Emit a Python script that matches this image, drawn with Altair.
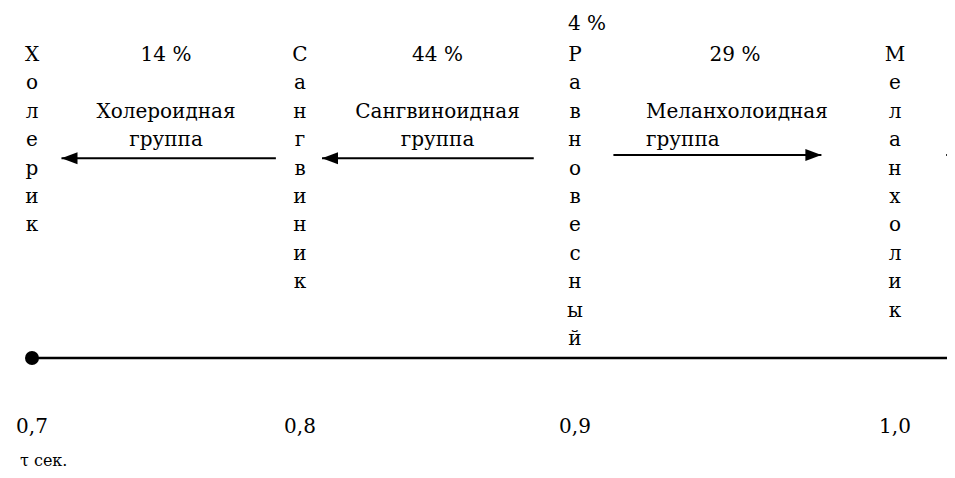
import altair as alt
import pandas as pd

# ---------------- data ----------------
types = ["Холерик", "Сангвиник", "Равновесный", "Меланхолик"]
tau = [0.7, 0.8, 0.9, 1.0]
tau_labels = ["0,7", "0,8", "0,9", "1,0"]
group_pct = ["14 %", "44 %", "29 %"]
center_pct = "4 %"
group_names = ["Холероидная", "Сангвиноидная", "Меланхолоидная"]
group_word = "группа"
arrow_from = [0.791, 0.885, 0.912, 1.016]
arrow_to = [0.711, 0.808, 0.977, 1.100]
axis_unit = "τ сек."

# ---------------- layout ----------------
X_RANGE = [24, 292, 567, 887]          # pixel position of each tau value
Y_DOMAIN = [0, 14]                     # text rows
Y_RANGE = [53, 53 + 14 * 28.4]
ROW_PCT_CENTER = -1.09
ROW_AXIS = 10.46
ROW_TICKS = 13.1
ROW_UNIT = 14.26
ARROW_ROWS = [3.42, 3.42, 3.31, 3.31]
SERIF = "DejaVu Serif"

xs = alt.Scale(domain=tau, range=X_RANGE, nice=False, zero=False)
ys = alt.Scale(domain=Y_DOMAIN, range=Y_RANGE, nice=False, zero=False)


def X(f):
    return alt.X(f"{f}:Q", scale=xs, axis=None)


def Y(f):
    return alt.Y(f"{f}:Q", scale=ys, axis=None)


# vertical words, one letter per row
letters = pd.DataFrame(
    [{"tau": t, "row": i, "ch": ch} for w, t in zip(types, tau) for i, ch in enumerate(w)]
)
mids = [(tau[k] + tau[k + 1]) / 2 for k in range(len(tau) - 1)]
pct = pd.DataFrame({"tau": mids, "row": 0, "txt": group_pct})
pct_c = pd.DataFrame({"tau": [tau[2]], "row": [ROW_PCT_CENTER], "txt": [center_pct]})
groups = pd.DataFrame(
    [{"tau": m, "row": 2, "txt": n, "g": k} for k, (m, n) in enumerate(zip(mids, group_names))]
    + [{"tau": m, "row": 3, "txt": group_word, "g": k} for k, m in enumerate(mids)]
)
arrows = pd.DataFrame({"a": arrow_from, "b": arrow_to, "row": ARROW_ROWS})
arrows["shape"] = [
    "M0,0L2,-0.75L2,0.75Z" if b < a else "M0,0L-2,-0.75L-2,0.75Z"
    for a, b in zip(arrow_from, arrow_to)
]
axis_df = pd.DataFrame({"a": [tau[0]], "b": [1.1], "row": [ROW_AXIS]})
ticks = pd.DataFrame({"tau": tau, "row": ROW_TICKS, "txt": tau_labels})
unit = pd.DataFrame({"tau": [tau[0]], "row": [ROW_UNIT], "txt": [axis_unit]})


def txt(df, size, align="center", dx=0):
    return alt.Chart(df).mark_text(
        font=SERIF, fontSize=size, align=align, baseline="alphabetic", dx=dx, color="black"
    ).encode(x=X("tau"), y=Y("row"), text="txt:N" if "txt" in df else "ch:N")


l_letters = txt(letters, 20)
l_pct = txt(pct, 20)
l_pct_c = txt(pct_c, 20, "left", -7)
l_groups_c = txt(groups[groups.g < 2], 20)
l_groups_l = txt(groups[groups.g == 2], 20, "left", -89)
l_ticks = txt(ticks, 20)
l_unit = txt(unit, 16, "left", -12)

l_arrows = alt.Chart(arrows).mark_rule(color="black", strokeWidth=2, clip=True).encode(
    x=X("a"), x2="b:Q", y=Y("row")
)

l_heads = alt.Chart(arrows).mark_point(
    filled=True, color="black", opacity=1, size=256, clip=True
).encode(x=X("b"), y=Y("row"), shape=alt.Shape("shape:N", scale=None))

l_axis = alt.Chart(axis_df).mark_rule(color="black", strokeWidth=2.5, clip=True).encode(
    x=X("a"), x2="b:Q", y=Y("row")
)

l_dot = alt.Chart(axis_df).mark_point(
    filled=True, color="black", opacity=1, size=196, shape="circle"
).encode(x=X("a"), y=Y("row"))

chart = alt.layer(
    l_axis, l_dot, l_arrows, l_heads, l_letters, l_pct, l_pct_c,
    l_groups_c, l_groups_l, l_ticks, l_unit
).properties(
    width=939, height=462, padding=0, autosize=alt.AutoSizeParams(type="none"),
    background="white"
).configure_view(stroke=None)

chart.save("out.html", embed_options={"renderer": "svg", "actions": False})
